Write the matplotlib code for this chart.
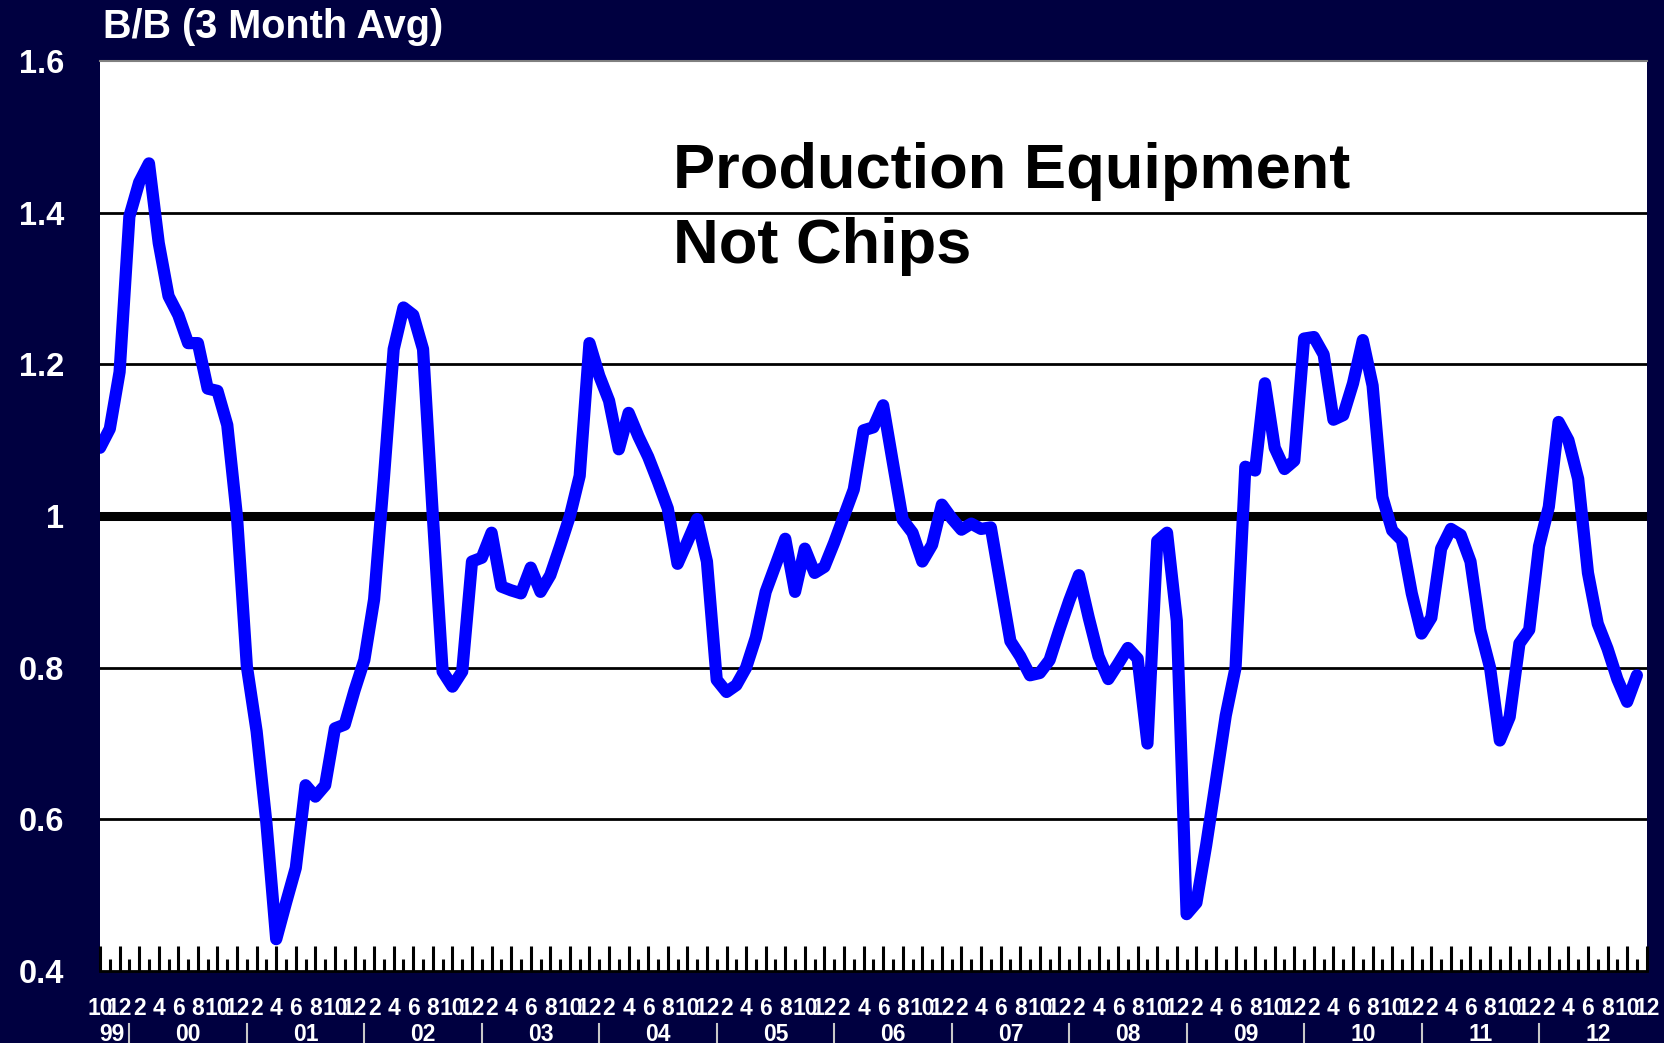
import numpy as np
import matplotlib
matplotlib.use("Agg")
import matplotlib.pyplot as plt
import matplotlib.transforms as mtransforms

# monthly book-to-bill, 3 month average, Oct 1999 .. Nov 2012
bb_ratio = [
    1.09, 1.115, 1.19,                                                       # 1999
    1.395, 1.44, 1.465, 1.36, 1.29, 1.265, 1.228, 1.228, 1.168, 1.165, 1.12, 0.998,   # 2000
    0.802, 0.716, 0.595, 0.442, 0.49, 0.536, 0.645, 0.63, 0.645, 0.72, 0.725, 0.77,   # 2001
    0.81, 0.89, 1.05, 1.22, 1.275, 1.265, 1.22, 1.0, 0.795, 0.775, 0.795, 0.94,       # 2002
    0.945, 0.978, 0.907, 0.902, 0.898, 0.932, 0.90, 0.922, 0.96, 1.0, 1.053, 1.228,   # 2003
    1.185, 1.152, 1.088, 1.136, 1.105, 1.078, 1.045, 1.01, 0.937, 0.966, 0.996, 0.94, # 2004
    0.784, 0.768, 0.777, 0.80, 0.84, 0.90, 0.935, 0.97, 0.90, 0.957, 0.925, 0.933,    # 2005
    0.965, 1.0, 1.035, 1.113, 1.117, 1.146, 1.07, 0.995, 0.978, 0.94, 0.962, 1.015,   # 2006
    0.997, 0.982, 0.99, 0.983, 0.985, 0.91, 0.835, 0.815, 0.79, 0.793, 0.81, 0.85,    # 2007
    0.888, 0.922, 0.866, 0.815, 0.785, 0.805, 0.826, 0.812, 0.70, 0.967, 0.978, 0.862,  # 2008
    0.475, 0.49, 0.566, 0.651, 0.737, 0.80, 1.065, 1.06, 1.175, 1.09, 1.062, 1.073,   # 2009
    1.234, 1.236, 1.213, 1.127, 1.133, 1.175, 1.232, 1.172, 1.025, 0.981, 0.968, 0.898,  # 2010
    0.845, 0.866, 0.957, 0.983, 0.975, 0.94, 0.85, 0.80, 0.704, 0.735, 0.832, 0.85,   # 2011
    0.96, 1.012, 1.124, 1.10, 1.049, 0.925, 0.858, 0.825, 0.785, 0.755, 0.79,         # 2012
]

month_labels = ["10", "12"] + ["2", "4", "6", "8", "10", "12"] * 13
year_labels = ["99", "00", "01", "02", "03", "04", "05", "06",
               "07", "08", "09", "10", "11", "12"]
y_ticks = [0.4, 0.6, 0.8, 1.0, 1.2, 1.4, 1.6]
y_labels = ["0.4", "0.6", "0.8", "1", "1.2", "1.4", "1.6"]

navy = "#000040"
plt.rcParams["font.family"] = ["Liberation Sans", "DejaVu Sans"]
plt.rcParams["font.weight"] = "bold"

fig = plt.figure(figsize=(16.64, 10.43), dpi=100, facecolor=navy)
ax = fig.add_axes([0.0601, 0.069, 0.9295, 0.8725])
ax.set_facecolor("white")

n_months = len(month_labels) * 2 - 1          # axis runs to Dec 2012
x = np.arange(len(bb_ratio))

for v in [0.6, 0.8, 1.2, 1.4]:
    ax.axhline(v, color="black", lw=2, zorder=1)
ax.axhline(1.0, color="black", lw=6.5, zorder=1)

ax.plot(x, bb_ratio, color="#0000FF", lw=8.8, solid_joinstyle="round",
        solid_capstyle="round", zorder=3)

ax.set_xlim(0, n_months - 1)
ax.set_ylim(0.4, 1.6)

# y axis
ax.set_yticks(y_ticks, labels=y_labels)
ax.tick_params(axis="y", length=0, pad=26, labelsize=23.5, labelcolor="white")

# month ticks
ax.set_xticks(np.arange(0, n_months, 2), labels=month_labels)
ax.set_xticks(np.arange(1, n_months, 2), minor=True)
ax.tick_params(axis="x", which="major", direction="in", length=18, width=2.2,
               color="black", pad=19, labelsize=16.5, labelcolor="white")
ax.tick_params(axis="x", which="minor", direction="in", length=9, width=2.2,
               color="black")

# year labels below the months
jan_pos = np.arange(3, n_months, 12)
year_pos = [1.2] + list(jan_pos + 6)
sec = ax.secondary_xaxis("bottom")
sec.set_xticks(year_pos, labels=year_labels)
sec.tick_params(length=0, pad=37.5, labelsize=16.5, labelcolor="white")
sec.spines["bottom"].set_visible(False)

trans = mtransforms.blended_transform_factory(ax.transData, fig.transFigure)
for j in jan_pos:
    ax.plot([j, j], [0, 0.018], color="#c8c8c8", lw=1.5, transform=trans,
            clip_on=False)

for s in ["left", "right"]:
    ax.spines[s].set_visible(False)
ax.spines["top"].set_color("#808080")
ax.spines["top"].set_linewidth(1.5)
ax.spines["bottom"].set_color("black")
ax.spines["bottom"].set_linewidth(2)

ax.text(58.5, 1.432, "Production Equipment", fontsize=45.5, fontweight="bold",
        color="black", va="baseline")
ax.text(58.5, 1.333, "Not Chips", fontsize=45.5, fontweight="bold",
        color="black", va="baseline")

fig.text(103 / 1664, 1 - 27 / 1043, "B/B (3 Month Avg)", color="white",
         fontsize=28.5, fontweight="bold", va="center")

fig.savefig("out.png", dpi=100, facecolor=navy)
